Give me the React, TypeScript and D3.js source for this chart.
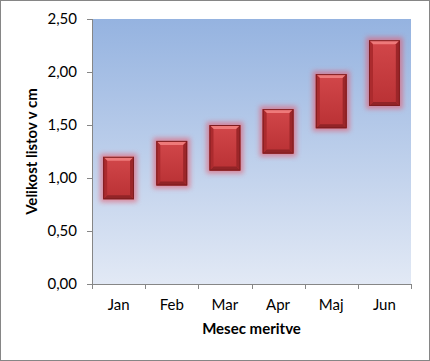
import React from "react";
import * as d3 from "d3";

const months = ["Jan", "Feb", "Mar", "Apr", "Maj", "Jun"];
const lows = [0.8, 0.93, 1.07, 1.23, 1.47, 1.68];
const highs = [1.2, 1.35, 1.5, 1.65, 1.98, 2.3];
const yTicks = [0, 0.5, 1, 1.5, 2, 2.5];
const yTitle = "Velikost listov v cm";
const xTitle = "Mesec meritve";

const W = 430, H = 361;
const m = { left: 92, right: 19, top: 19, bottom: 77 };

export default function App() {
  const x = d3.scaleBand().domain(months).range([m.left, W - m.right]).paddingInner(0.42).paddingOuter(0.21);
  const xb = d3.scaleBand().domain(months).range([m.left, W - m.right]);
  const y = d3.scaleLinear().domain([0, 2.5]).range([H - m.bottom, m.top]);
  const fmt = (v: number) => d3.format(".2f")(v).replace(".", ",");
  const font = "Lato, 'Open Sans', sans-serif";
  const axisColor = "#868686";
  const bw = x.bandwidth();
  return (
    <div style={{ position: "absolute", left: 0, top: 0 }}>
      <svg width={W} height={H} style={{ display: "block" }}>
        <defs>
          <linearGradient id="bg" x1="0" y1="0" x2="0" y2="1">
            <stop offset="0" stopColor="#95b3e0" />
            <stop offset="1" stopColor="#e2e9f5" />
          </linearGradient>
          <linearGradient id="bar" x1="0" y1="0" x2="0" y2="1">
            <stop offset="0" stopColor="#d2474a" />
            <stop offset="1" stopColor="#b93134" />
          </linearGradient>
          <filter id="glow" x="-50%" y="-50%" width="200%" height="200%">
            <feGaussianBlur stdDeviation="2.8" />
          </filter>
        </defs>
        <rect x={0.5} y={0.5} width={W - 1} height={H - 1} fill="#fff" stroke={axisColor} />
        <rect x={m.left} y={m.top} width={W - m.left - m.right} height={H - m.top - m.bottom} fill="url(#bg)" />
        {months.map((mo, i) => {
          const x0 = x(mo)!;
          const yt = y(highs[i]);
          const yb = y(lows[i]);
          const h = yb - yt;
          const bev = 4;
          return (
            <g key={mo}>
              <rect x={x0 - 3} y={yt - 3} width={bw + 6} height={h + 6} fill="#e5566a" opacity={0.6} filter="url(#glow)" />
              <rect x={x0} y={yt} width={bw} height={h} fill="url(#bar)" />
              <polygon points={`${x0},${yt} ${x0 + bw},${yt} ${x0 + bw - bev},${yt + bev} ${x0 + bev},${yt + bev}`} fill="#ee7a7a" />
              <polygon points={`${x0},${yb} ${x0 + bw},${yb} ${x0 + bw - bev},${yb - bev} ${x0 + bev},${yb - bev}`} fill="#922427" />
              <polygon points={`${x0},${yt} ${x0 + bev},${yt + bev} ${x0 + bev},${yb - bev} ${x0},${yb}`} fill="#ab2b2e" />
              <polygon points={`${x0 + bw},${yt} ${x0 + bw - bev},${yt + bev} ${x0 + bw - bev},${yb - bev} ${x0 + bw},${yb}`} fill="#9c2629" />
              <rect x={x0 + 0.5} y={yt + 0.5} width={bw - 1} height={h - 1} fill="none" stroke="#7e1d20" strokeWidth={1} />
            </g>
          );
        })}
        <line x1={m.left + 0.5} x2={m.left + 0.5} y1={m.top} y2={y(0)} stroke={axisColor} />
        <line x1={m.left} x2={W - m.right} y1={y(0) + 0.5} y2={y(0) + 0.5} stroke={axisColor} />
        {yTicks.map((t) => (
          <g key={t}>
            <line x1={m.left - 5} x2={m.left} y1={Math.round(y(t)) + 0.5} y2={Math.round(y(t)) + 0.5} stroke={axisColor} />
            <text x={m.left - 15} y={y(t)} dy="0.35em" textAnchor="end" fontFamily={font} fontSize={15} fill="#000">{fmt(t)}</text>
          </g>
        ))}
        {[...months.map((mo) => xb(mo)!), W - m.right].map((xv, i) => (
          <line key={i} x1={Math.round(xv) + 0.5} x2={Math.round(xv) + 0.5} y1={y(0)} y2={y(0) + 5} stroke={axisColor} />
        ))}
        {months.map((mo) => (
          <text key={mo} x={xb(mo)! + xb.bandwidth() / 2} y={305} dy="0.35em" textAnchor="middle" fontFamily={font} fontSize={15} fill="#000">{mo}</text>
        ))}
        <text x={(m.left + W - m.right) / 2} y={329} dy="0.35em" textAnchor="middle" fontFamily={font} fontSize={15} fontWeight="bold" fill="#000">{xTitle}</text>
        <text transform={`translate(32,${(m.top + y(0)) / 2}) rotate(-90)`} dy="0.35em" textAnchor="middle" fontFamily={font} fontSize={15} fontWeight="bold" fill="#000">{yTitle}</text>
      </svg>
    </div>
  );
}
